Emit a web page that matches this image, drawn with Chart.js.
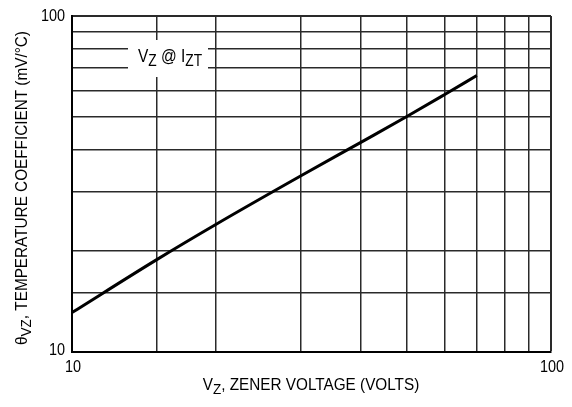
<!DOCTYPE html>
<html>
<head>
<meta charset="utf-8">
<script src="https://cdn.jsdelivr.net/npm/chart.js@4"></script>
<style>
  body { margin: 0; background: #fff; }
  #wrap { width: 572px; height: 407px; }
</style>
</head>
<body>
<div id="wrap"><canvas id="chart" width="572" height="407"></canvas></div>
<script>
/* ================= DATA ================= */
const zenerVoltage = [10, 15, 20, 30, 40, 50, 60, 70];
const tempCoeff = [13.1, 18.8, 24, 33.4, 42, 50.2, 58.4, 66.5];

const gridX = [10, 15, 20, 30, 40, 50, 60, 70, 80, 90, 100];
const gridY = [10, 15, 20, 30, 40, 50, 60, 70, 80, 90, 100];
const xTickLabels = [10, 100];
const yTickLabels = [10, 100];

const FONT = '"Liberation Sans", Arial, sans-serif';

/* ================= TEXT HELPERS ================= */
// parts: [text, isSub]
const drawParts = (ctx, parts, x, y, size, squeeze) => {
    ctx.save();
    ctx.translate(x, y);
    ctx.scale(squeeze, 1);
    ctx.textBaseline = 'middle';
    ctx.textAlign = 'left';
    ctx.fillStyle = '#000';
    let total = 0;
    parts.forEach(([t, sub]) => {
        ctx.font = `${sub ? size - 2 : size}px ${FONT}`;
        total += ctx.measureText(t).width;
    });
    let cx = -total / 2;
    parts.forEach(([t, sub]) => {
        ctx.font = `${sub ? size - 2 : size}px ${FONT}`;
        ctx.fillText(t, cx, sub ? 5 : 0);
        cx += ctx.measureText(t).width;
    });
    ctx.restore();
};

const textPlugin = {
    id: 'texts',
    afterDraw(chart) {
        const { ctx, scales: { x, y } } = chart;

        // tick labels
        ctx.save();
        ctx.fillStyle = '#000';
        ctx.font = `17px ${FONT}`;
        ctx.textBaseline = 'middle';
        yTickLabels.forEach(v => {
            ctx.textAlign = 'right';
            ctx.save();
            const py = y.getPixelForValue(v);
            ctx.translate(x.left - 7, v === 100 ? py : py - 2);
            ctx.scale(0.85, 1);
            ctx.fillText(String(v), 0, 0);
            ctx.restore();
        });
        xTickLabels.forEach(v => {
            ctx.textAlign = 'center';
            ctx.save();
            ctx.translate(x.getPixelForValue(v) + 1, y.bottom + 15);
            ctx.scale(0.85, 1);
            ctx.fillText(String(v), 0, 0);
            ctx.restore();
        });
        ctx.restore();

        // in-plot label with white box
        ctx.save();
        ctx.fillStyle = '#fff';
        ctx.fillRect(128, 40, 80, 37);
        ctx.restore();
        drawParts(ctx, [['V', false], ['Z', true], [' @ ', false], ['I', false], ['ZT', true]],
            170, 57, 18, 0.86);

        // axis titles
        drawParts(ctx, [['V', false], ['Z', true], [', ZENER VOLTAGE (VOLTS)', false]],
            311, 385, 17, 0.9);

        ctx.save();
        ctx.translate(22, 188);
        ctx.rotate(-Math.PI / 2);
        drawParts(ctx, [['θ', false], ['VZ', true], [', TEMPERATURE COEFFICIENT (mV/°C)', false]],
            0, 0, 17, 0.9);
        ctx.restore();
    }
};

/* ================= CHART ================= */
const gridWidth = c => (c.tick && c.tick.value === 100 ? 2 : 1.5);

new Chart(document.getElementById('chart'), {
    type: 'scatter',
    data: {
        datasets: [{
            data: zenerVoltage.map((v, i) => ({ x: v, y: tempCoeff[i] })),
            showLine: true,
            borderColor: '#000',
            borderWidth: 3,
            pointRadius: 0,
            cubicInterpolationMode: 'monotone'
        }]
    },
    options: {
        responsive: false,
        animation: false,
        layout: { padding: { left: 72, top: 16, right: 21, bottom: 55 } },
        plugins: { legend: { display: false }, tooltip: { enabled: false } },
        scales: {
            x: {
                type: 'logarithmic',
                min: 10,
                max: 100,
                afterBuildTicks: s => { s.ticks = gridX.map(v => ({ value: v })); },
                ticks: { display: false },
                grid: { color: '#2a2a2a', lineWidth: gridWidth, drawTicks: false },
                border: { color: '#000', width: 2 }
            },
            y: {
                type: 'logarithmic',
                min: 10,
                max: 100,
                afterBuildTicks: s => { s.ticks = gridY.map(v => ({ value: v })); },
                ticks: { display: false },
                grid: { color: '#2a2a2a', lineWidth: gridWidth, drawTicks: false },
                border: { color: '#000', width: 2 }
            }
        }
    },
    plugins: [textPlugin]
});
</script>
</body>
</html>
